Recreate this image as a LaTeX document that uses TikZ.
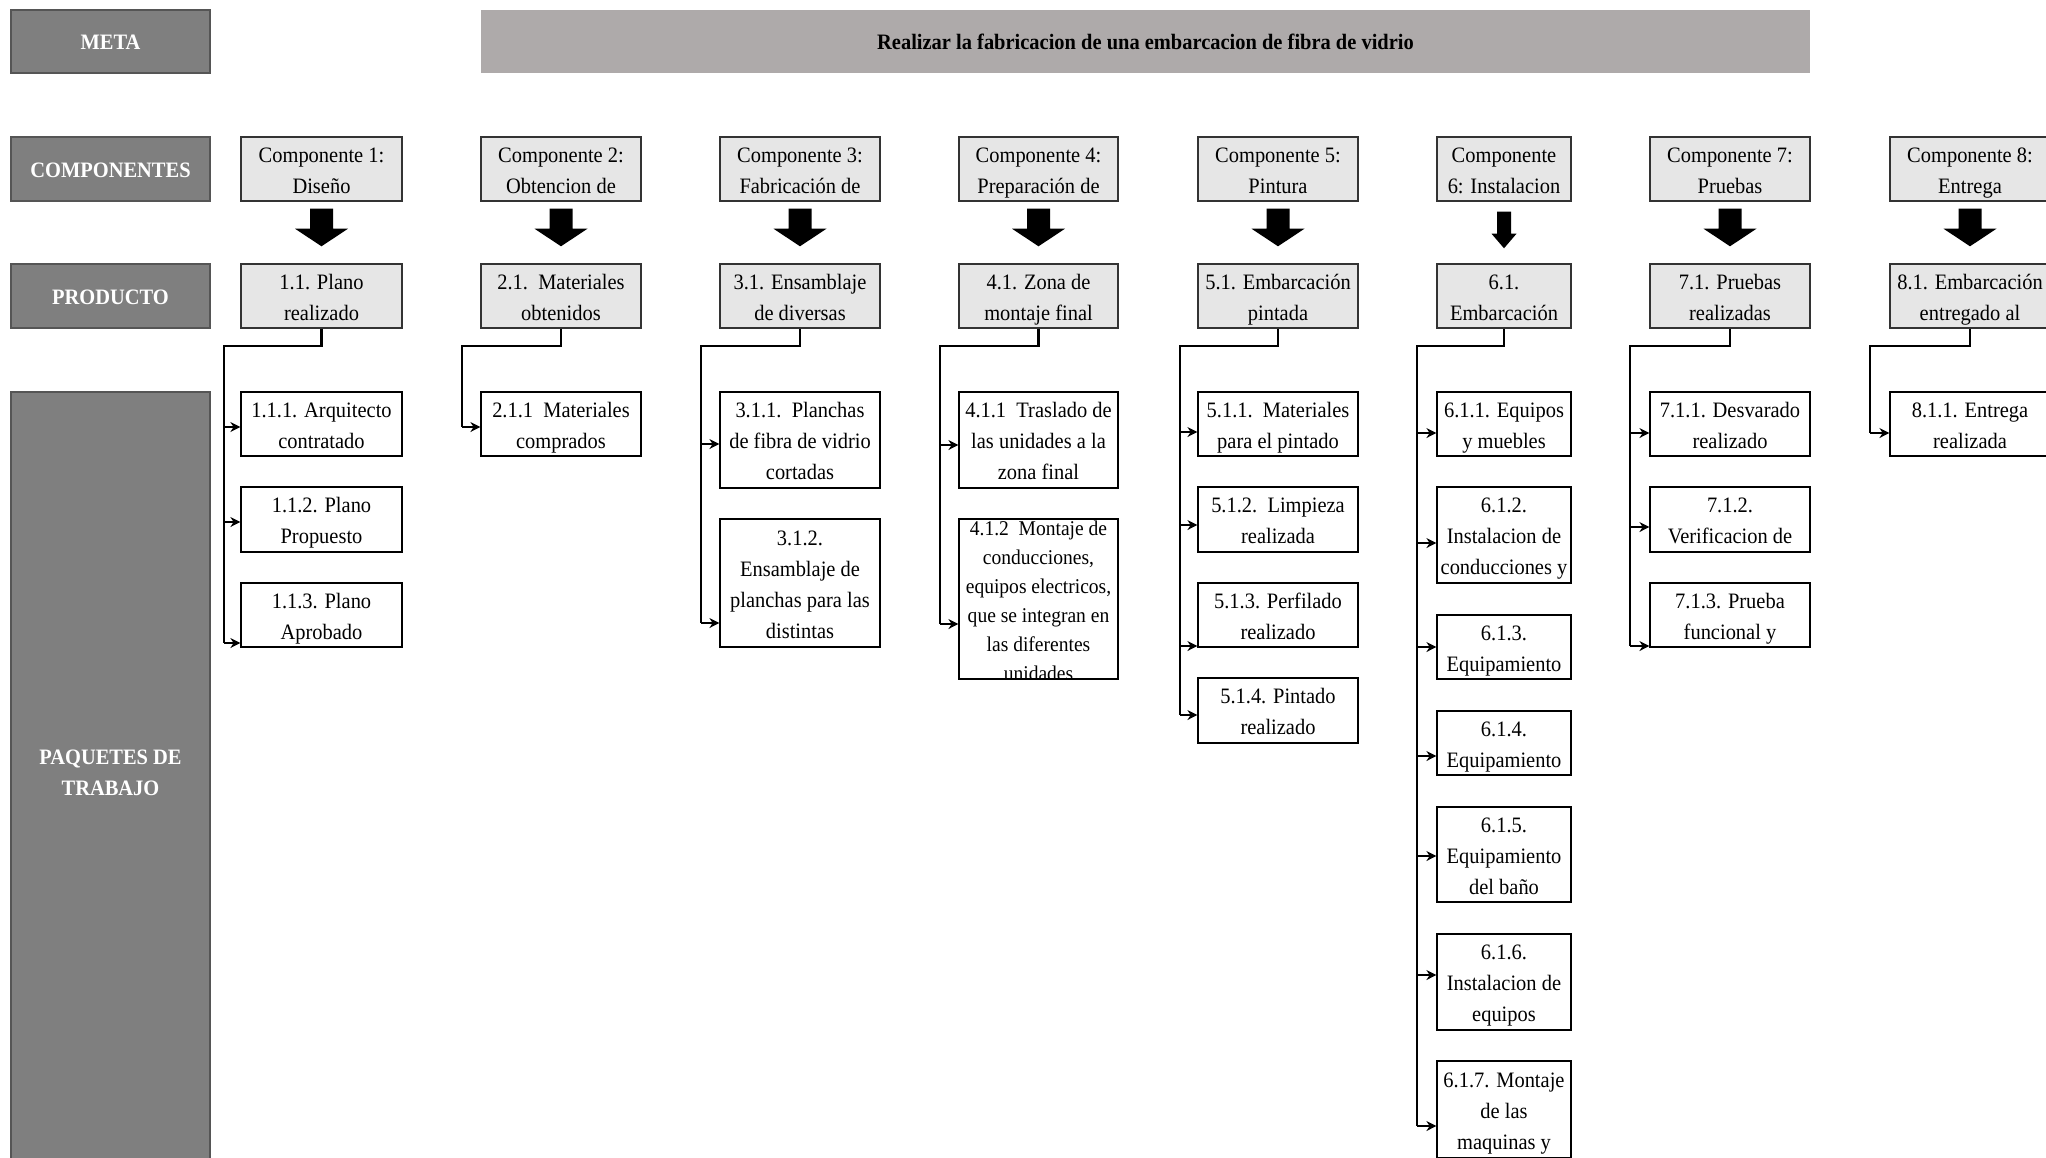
\documentclass[tikz,border=0pt]{standalone}
\usepackage{fontspec}
\setmainfont{Liberation Serif}[FakeStretch=0.93]
\usetikzlibrary{calc,arrows.meta}

\definecolor{labelgray}{HTML}{7F7F7F}
\definecolor{labeledge}{HTML}{555555}
\definecolor{metagray}{HTML}{AEAAAA}
\definecolor{compgray}{HTML}{E6E6E6}
\definecolor{compedge}{HTML}{333333}

\newcommand\wbsfont{\fontsize{11}{15.5}\selectfont}
\newcommand\smallwbsfont{\fontsize{10.5}{14.5}\selectfont}
% struts fixing the first line height and the last line depth
\newcommand\labelstrut{\rule[-3.7pt]{0pt}{15.5pt}}
\newcommand\topstrut{\rule{0pt}{11.2pt}}
\newcommand\botstrut{\rule[-2.7pt]{0pt}{2.7pt}}

% box given by its corners (x1,y1)-(x2,y2) in pixel units
\newcommand\boxnode[7]{%
  \pgfmathsetmacro\bw{(#5)-(#3)}%
  \pgfmathsetmacro\bh{(#6)-(#4)}%
  \node[#1, minimum width=\bw*0.5pt, minimum height=\bh*0.5pt]
    (#2) at ({((#3)+(#5))/2},{((#4)+(#6))/2}) {#7};}
% same, with the text lines held at fixed baselines
\newcommand\tboxnode[7]{\boxnode{#1}{#2}{#3}{#4}{#5}{#6}{\topstrut#7\botstrut}}

% thick block arrow from a component box to its product box
% #1 top node, #2 bottom node, #3 shaft half width, #4 head half width,
% #5 gap below top node, #6 head start below top node, #7 gap above bottom node
\newcommand\blockarrow[7]{%
  \fill[black] ($(#1.south)+(-#3,#5)$) -- ($(#1.south)+(#3,#5)$)
    -- ($(#1.south)+(#3,#6)$) -- ($(#1.south)+(#4,#6)$)
    -- ($(#2.north)+(0,-#7)$)
    -- ($(#1.south)+(-#4,#6)$) -- ($(#1.south)+(-#3,#6)$) -- cycle;}

% work package box plus the arrow from the trunk
% #1 name, #2 trunk x, #3 x1, #4 y1, #5 x2, #6 y2, #7 arrow y, #8 text
\newcommand\wpkg[8]{%
  \tboxnode{wpbox}{#1}{#3}{#4}{#5}{#6}{#8}
  \coordinate (a#1) at (#2,#7);
  \draw[arr] (a#1) -- (a#1 -| #1.west);}

\begin{document}
\begin{tikzpicture}[x=0.5pt,y=-0.5pt,
  every node/.style={font=\wbsfont},
  labelstruts/.style={execute at begin node={\labelstrut}, execute at end node={\labelstrut}},
  label/.style={fill=labelgray, draw=labeledge, line width=0.7pt, text=white,
    font=\wbsfont\bfseries, align=center, inner sep=0pt, labelstruts},
  metabar/.style={fill=metagray, font=\wbsfont\bfseries, inner sep=0pt, labelstruts},
  compbox/.style={fill=compgray, draw=compedge, line width=0.7pt, align=center,
    inner sep=0pt},
  wpbox/.style={fill=white, draw=black, line width=0.6pt, align=center,
    inner sep=0pt},
  link/.style={line width=1.3pt},
  arr/.style={line width=1.3pt, -{Stealth[length=5pt,width=5pt]}}]

\useasboundingbox (0,0) rectangle (2046,1157);
\clip (0,0) rectangle (2046,1157);
\fill[white] (0,0) rectangle (2046,1157);

% row labels
\boxnode{label}{lmeta}{11}{10}{210}{73}{META}
\boxnode{label}{lcomp}{11}{137}{210}{201}{COMPONENTES}
\boxnode{label}{lprod}{11}{264}{210}{328}{PRODUCTO}
\boxnode{label}{lpaq}{11}{392}{210}{1160}{PAQUETES DE\\TRABAJO}

% goal
\boxnode{metabar}{meta}{481}{10}{1810}{73}{Realizar la fabricacion de una embarcacion de fibra de vidrio}

% components
\tboxnode{compbox}{c1}{241}{137}{402}{201}{Componente 1:\\Diseño}
\tboxnode{compbox}{c2}{481}{137}{641}{201}{Componente 2:\\Obtencion de}
\tboxnode{compbox}{c3}{720}{137}{880}{201}{Componente 3:\\Fabricación de}
\tboxnode{compbox}{c4}{959}{137}{1118}{201}{Componente 4:\\Preparación de}
\tboxnode{compbox}{c5}{1198}{137}{1358}{201}{Componente 5:\\Pintura}
\tboxnode{compbox}{c6}{1437}{137}{1571}{201}{Componente\\6: Instalacion}
\tboxnode{compbox}{c7}{1650}{137}{1810}{201}{Componente 7:\\Pruebas}
\tboxnode{compbox}{c8}{1890}{137}{2050}{201}{Componente 8:\\Entrega}

% products
\tboxnode{compbox}{p1}{241}{264}{402}{328}{1.1. Plano\\realizado}
\tboxnode{compbox}{p2}{481}{264}{641}{328}{2.1.\ \ Materiales\\obtenidos}
\tboxnode{compbox}{p3}{720}{264}{880}{328}{3.1. Ensamblaje\\de diversas}
\tboxnode{compbox}{p4}{959}{264}{1118}{328}{4.1. Zona de\\montaje final}
\tboxnode{compbox}{p5}{1198}{264}{1358}{328}{5.1. Embarcación\\pintada}
\tboxnode{compbox}{p6}{1437}{264}{1571}{328}{6.1.\\Embarcación}
\tboxnode{compbox}{p7}{1650}{264}{1810}{328}{7.1. Pruebas\\realizadas}
\tboxnode{compbox}{p8}{1890}{264}{2050}{328}{8.1. Embarcación\\entregado al}

% component -> product arrows
\blockarrow{c1}{p1}{11.5}{26.5}{7}{27}{17}
\blockarrow{c2}{p2}{11.5}{26.5}{7}{27}{17}
\blockarrow{c3}{p3}{11.5}{26.5}{7}{27}{17}
\blockarrow{c4}{p4}{11.5}{26.5}{7}{27}{17}
\blockarrow{c5}{p5}{11.5}{26.5}{7}{27}{17}
\blockarrow{c6}{p6}{7}{12.5}{10}{32}{15}
\blockarrow{c7}{p7}{11.5}{26.5}{7}{27}{17}
\blockarrow{c8}{p8}{11.5}{26.5}{7}{27}{17}

% trunk heads
\coordinate (t1) at (224,346);
\coordinate (t2) at (462,346);
\coordinate (t3) at (701,346);
\coordinate (t4) at (940,346);
\coordinate (t5) at (1180,346);
\coordinate (t6) at (1417,346);
\coordinate (t7) at (1630,346);
\coordinate (t8) at (1870,346);

% column 1
\wpkg{w111}{224}{241}{392}{402}{456}{427}{1.1.1. Arquitecto\\contratado}
\wpkg{w112}{224}{241}{487}{402}{552}{522}{1.1.2. Plano\\Propuesto}
\wpkg{w113}{224}{241}{583}{402}{647}{643}{1.1.3. Plano\\Aprobado}
\draw[link] (p1.south) |- (t1) -- (aw113);

% column 2
\wpkg{w211}{462}{481}{392}{641}{456}{427}{2.1.1\ \ Materiales\\comprados}
\draw[link] (p2.south) |- (t2) -- (aw211);

% column 3
\wpkg{w311}{701}{720}{392}{880}{488}{444}{3.1.1.\ \ Planchas\\de fibra de vidrio\\cortadas}
\wpkg{w312}{701}{720}{519}{880}{647}{623}{3.1.2.\\Ensamblaje de\\planchas para las\\distintas}
\draw[link] (p3.south) |- (t3) -- (aw312);

% column 4
\wpkg{w411}{940}{959}{392}{1118}{488}{445}{4.1.1\ \ Traslado de\\las unidades a la\\zona final}
\begin{scope}
  \clip (959,519) rectangle (1118,679);
  \node[align=center, inner sep=0pt, font=\smallwbsfont] (w412text) at (1038.5,599)
    {\rule{0pt}{10pt}4.1.2\ \ Montaje de\\conducciones,\\equipos electricos,\\que se integran en\\las diferentes\\unidades\rule[-1.5pt]{0pt}{1.5pt}};
\end{scope}
\boxnode{draw=black, line width=0.6pt, inner sep=0pt}{w412}{959}{519}{1118}{679}{}
\coordinate (aw412) at (940,624);
\draw[arr] (aw412) -- (aw412 -| w412.west);
\draw[link] (p4.south) |- (t4) -- (aw412);

% column 5
\wpkg{w511}{1180}{1198}{392}{1358}{456}{432}{5.1.1.\ \ Materiales\\para el pintado}
\wpkg{w512}{1180}{1198}{487}{1358}{552}{525}{5.1.2.\ \ Limpieza\\realizada}
\wpkg{w513}{1180}{1198}{583}{1358}{647}{646}{5.1.3. Perfilado\\realizado}
\wpkg{w514}{1180}{1198}{678}{1358}{743}{715}{5.1.4. Pintado\\realizado}
\draw[link] (p5.south) |- (t5) -- (aw514);

% column 6
\wpkg{w611}{1417}{1437}{392}{1571}{456}{433}{6.1.1. Equipos\\y muebles}
\wpkg{w612}{1417}{1437}{487}{1571}{583}{543}{6.1.2.\\Instalacion de\\conducciones y}
\wpkg{w613}{1417}{1437}{615}{1571}{679}{647}{6.1.3.\\Equipamiento}
\wpkg{w614}{1417}{1437}{711}{1571}{775}{756}{6.1.4.\\Equipamiento}
\wpkg{w615}{1417}{1437}{807}{1571}{902}{856}{6.1.5.\\Equipamiento\\del baño}
\wpkg{w616}{1417}{1437}{934}{1571}{1030}{975}{6.1.6.\\Instalacion de\\equipos}
\wpkg{w617}{1417}{1437}{1061}{1571}{1158}{1126}{6.1.7. Montaje\\de las\\maquinas y}
\draw[link] (p6.south) |- (t6) -- (aw617);

% column 7
\wpkg{w711}{1630}{1650}{392}{1810}{456}{433}{7.1.1. Desvarado\\realizado}
\wpkg{w712}{1630}{1650}{487}{1810}{552}{527}{7.1.2.\\Verificacion de}
\wpkg{w713}{1630}{1650}{583}{1810}{647}{646}{7.1.3. Prueba\\funcional y}
\draw[link] (p7.south) |- (t7) -- (aw713);

% column 8
\wpkg{w811}{1870}{1890}{392}{2050}{456}{433}{8.1.1. Entrega\\realizada}
\draw[link] (p8.south) |- (t8) -- (aw811);

\end{tikzpicture}
\end{document}
